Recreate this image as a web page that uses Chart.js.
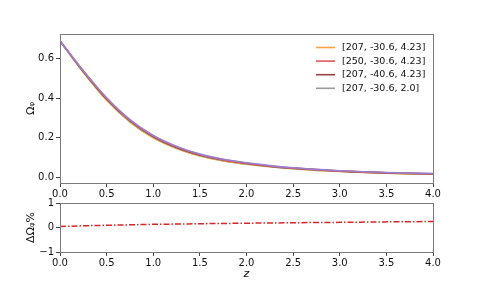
<!DOCTYPE html>
<html>
<head>
<meta charset="utf-8">
<script src="https://cdn.jsdelivr.net/npm/chart.js@4"></script>
<style>
  html, body { margin: 0; padding: 0; background: #ffffff; }
  #wrap { position: relative; width: 481px; height: 289px; overflow: hidden; }
  #wrap canvas { position: absolute; left: 0; }
  #topChart { top: 0; }
  #bottomChart { top: 190px; }
</style>
</head>
<body>
<div id="wrap">
  <canvas id="topChart" width="481" height="200"></canvas>
  <canvas id="bottomChart" width="481" height="99"></canvas>
</div>
<script>
// redshift grid
const zValues = [0, 0.25, 0.5, 0.75, 1.0, 1.25, 1.5, 1.75, 2.0, 2.25, 2.5, 2.75, 3.0, 3.25, 3.5, 3.75, 4.0];

// Omega_phi(z) for each parameter set
const omegaPurple = [0.690, 0.539, 0.402, 0.292, 0.212, 0.157, 0.118, 0.092, 0.074, 0.060, 0.049, 0.041, 0.034, 0.029, 0.025, 0.022, 0.020];
const omegaRed    = [0.690, 0.538, 0.400, 0.290, 0.210, 0.155, 0.116, 0.090, 0.072, 0.058, 0.048, 0.040, 0.033, 0.028, 0.024, 0.021, 0.019];
const omegaBrown  = [0.690, 0.536, 0.397, 0.287, 0.207, 0.152, 0.114, 0.088, 0.071, 0.057, 0.047, 0.039, 0.032, 0.027, 0.023, 0.020, 0.018];
const omegaGray   = [0.690, 0.535, 0.395, 0.285, 0.205, 0.150, 0.112, 0.087, 0.070, 0.056, 0.046, 0.038, 0.032, 0.027, 0.023, 0.020, 0.018];
const omegaOrange = [0.690, 0.533, 0.392, 0.282, 0.202, 0.148, 0.110, 0.085, 0.068, 0.055, 0.045, 0.037, 0.031, 0.026, 0.022, 0.019, 0.017];
const omegaOlive  = [0.690, 0.532, 0.390, 0.280, 0.200, 0.146, 0.108, 0.084, 0.067, 0.054, 0.044, 0.036, 0.030, 0.025, 0.021, 0.018, 0.016];

// relative difference in percent
const deltaOmega = [0.04, 0.07, 0.09, 0.11, 0.13, 0.14, 0.155, 0.165, 0.175, 0.185, 0.195, 0.205, 0.21, 0.22, 0.23, 0.235, 0.245];

const legendLabels = ['[207, -30.6, 4.23]', '[250, -30.6, 4.23]', '[207, -40.6, 4.23]', '[207, -30.6, 2.0]'];

const xTicks = [0, 0.5, 1.0, 1.5, 2.0, 2.5, 3.0, 3.5, 4.0];
const topYTicks = [0.0, 0.2, 0.4, 0.6];
const bottomYTicks = [-1, 0, 1];

const FONT = 'DejaVu Sans';
const AXIS_GREY = '#7a7a7a';

function pts(ys) {
    return zValues.map((z, i) => ({ x: z, y: ys[i] }));
}

function lineSet(label, ys, color) {
    return {
        label: label,
        data: pts(ys),
        borderColor: color,
        backgroundColor: color,
        borderWidth: 1.6,
        pointRadius: 0,
        fill: false,
        cubicInterpolationMode: 'monotone'
    };
}

// frame on all four sides, like matplotlib spines
const frame = {
    id: 'frame',
    afterDraw(chart) {
        const a = chart.chartArea, ctx = chart.ctx;
        ctx.save();
        ctx.strokeStyle = AXIS_GREY;
        ctx.lineWidth = 1;
        ctx.strokeRect(Math.round(a.left) + 0.5, Math.round(a.top) + 0.5,
            Math.round(a.right - a.left), Math.round(a.bottom - a.top));
        ctx.restore();
    }
};

// legend in the upper right corner, line samples then text, in legendLabels order
const cornerLegend = {
    id: 'cornerLegend',
    afterDraw(chart) {
        const ctx = chart.ctx, a = chart.chartArea;
        ctx.save();
        ctx.font = '9.5px "' + FONT + '"';
        ctx.textBaseline = 'middle';
        ctx.textAlign = 'left';
        var y = a.top + 13.5;
        for (var lbl of legendLabels) {
            var d = chart.data.datasets.find(s => s.label === lbl);
            ctx.strokeStyle = d.borderColor;
            ctx.lineWidth = 1.6;
            ctx.beginPath();
            ctx.moveTo(a.left + 256, y);
            ctx.lineTo(a.left + 275, y);
            ctx.stroke();
            ctx.fillStyle = '#111';
            ctx.fillText(d.label, a.left + 282, y);
            y += 13.6;
        }
        ctx.restore();
    }
};

function xScale(title, tickH) {
    return {
        type: 'linear',
        min: 0,
        max: 4,
        afterBuildTicks: s => { s.ticks = xTicks.map(v => ({ value: v })); },
        ticks: {
            color: '#111',
            font: { family: FONT, size: 10 },
            padding: 1,
            maxRotation: 0,
            callback: v => v.toFixed(1)
        },
        grid: { drawOnChartArea: false, drawTicks: true, tickLength: 4, color: '#444' },
        border: { display: false },
        title: title,
        afterFit: s => { s.height = tickH; }
    };
}

new Chart(document.getElementById('topChart'), {
    type: 'line',
    data: {
        datasets: [
            lineSet('purple', omegaPurple, '#9b7fcf'),
            lineSet(legendLabels[1], omegaRed, '#e05a5c'),
            lineSet(legendLabels[2], omegaBrown, '#94463f'),
            lineSet(legendLabels[3], omegaGray, '#9a9a9a'),
            lineSet(legendLabels[0], omegaOrange, '#ffa24a'),
            lineSet('olive', omegaOlive, '#b8b83c')
        ]
    },
    options: {
        responsive: false,
        animation: false,
        events: [],
        layout: { padding: { top: 34, right: 48, left: 0, bottom: 0 } },
        plugins: { legend: { display: false }, tooltip: { enabled: false } },
        scales: {
            x: xScale({ display: false }, 17),
            y: {
                type: 'linear',
                min: -0.028,
                max: 0.725,
                afterBuildTicks: s => { s.ticks = topYTicks.map(v => ({ value: v })); },
                ticks: {
                    color: '#111',
                    font: { family: FONT, size: 10 },
                    padding: 2,
                    callback: v => v.toFixed(1)
                },
                grid: { drawOnChartArea: false, drawTicks: true, tickLength: 4, color: '#444' },
                border: { display: false },
                title: {
                    display: true,
                    text: 'Ωᵩ',
                    color: '#111',
                    font: { family: FONT, size: 11 },
                    padding: { top: 25, bottom: 0 }
                },
                afterFit: s => { s.width = 60; }
            }
        }
    },
    plugins: [frame, cornerLegend]
});

// lower panel: percent difference
new Chart(document.getElementById('bottomChart'), {
    type: 'line',
    data: {
        datasets: [{
            label: 'ΔΩ',
            data: pts(deltaOmega),
            borderColor: '#d62728',
            borderWidth: 1.5,
            borderDash: [6, 2, 1.5, 2],
            pointRadius: 0,
            fill: false,
            cubicInterpolationMode: 'monotone'
        }]
    },
    options: {
        responsive: false,
        animation: false,
        events: [],
        layout: { padding: { top: 13, right: 48, left: 0, bottom: 0 } },
        plugins: { legend: { display: false }, tooltip: { enabled: false } },
        scales: {
            x: xScale({
                display: true,
                text: 'z',
                color: '#111',
                font: { family: FONT, size: 11, style: 'italic' },
                padding: { top: 0, bottom: 8 }
            }, 37),
            y: {
                type: 'linear',
                min: -1,
                max: 1,
                afterBuildTicks: s => { s.ticks = bottomYTicks.map(v => ({ value: v })); },
                ticks: {
                    color: '#111',
                    font: { family: FONT, size: 10 },
                    padding: 2,
                    callback: v => (v < 0 ? '\u2212' + Math.abs(v) : String(v))
                },
                grid: { drawOnChartArea: false, drawTicks: true, tickLength: 4, color: '#444' },
                border: { display: false },
                title: {
                    display: true,
                    text: 'ΔΩᵩ%',
                    color: '#111',
                    font: { family: FONT, size: 11 },
                    padding: { top: 25, bottom: 0 }
                },
                afterFit: s => { s.width = 60; }
            }
        }
    },
    plugins: [frame]
});
</script>
</body>
</html>
